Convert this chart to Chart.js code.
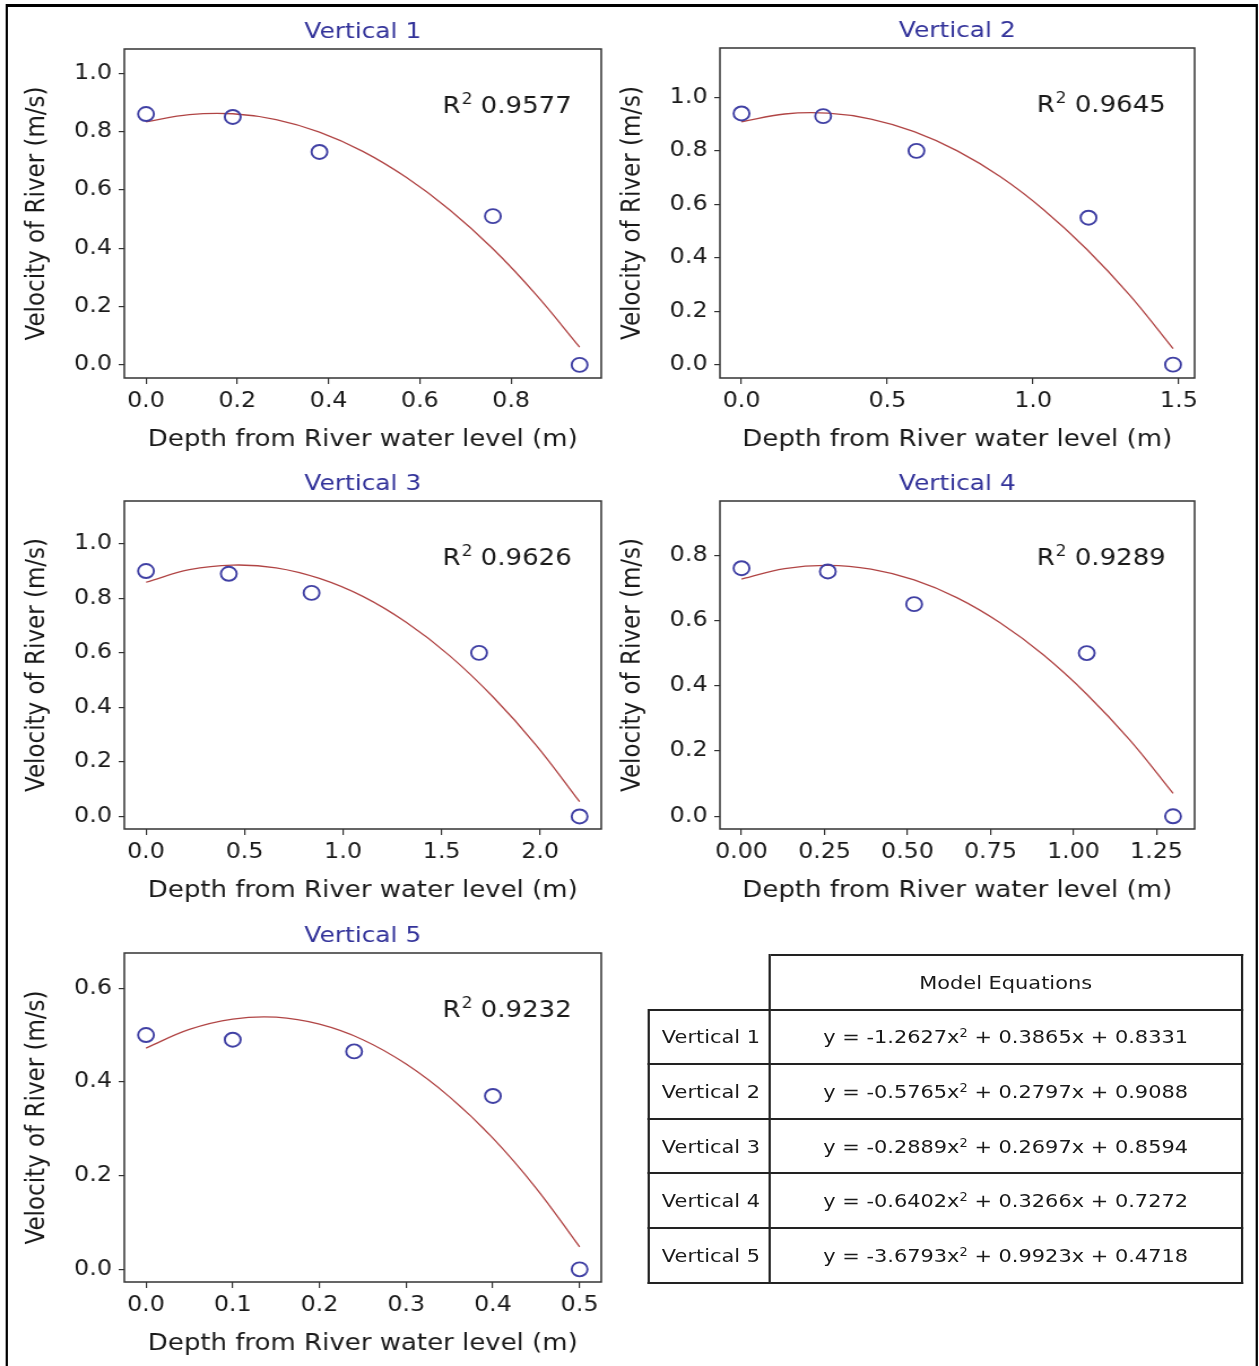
<!DOCTYPE html>
<html>
<head>
<meta charset="utf-8">
<title>River velocity profiles</title>
<script src="https://cdn.jsdelivr.net/npm/chart.js@4.4.1/dist/chart.umd.min.js"></script>
<style>
  html, body { margin: 0; padding: 0; background: #fff; overflow: hidden; }
  /* the reference is stretched sideways by ~13%, so lay out narrow and scale */
  #fig { position: relative; width: 1114px; height: 1366px; transform: scaleX(1.1302); transform-origin: 0 0; font-family: 'DejaVu Sans', sans-serif; }
  #frame { position: absolute; left: 5.3px; top: 4px; width: 1108px; height: 1420px; box-sizing: border-box; border: 2.8px solid #000; border-top-width: 3px; }
  .panel { position: absolute; }
  #eq { position: absolute; left: 572.6px; top: 954px; width: 527.4px; border-collapse: collapse; font-size: 18.5px; color: #1a1a1a; }
  #eq td { border: 2px solid #222; padding: 0; }
  #eq tr { height: 54.6px; }
  #eq td.blank { border-top: none; border-left: none; }
  #eq td.lab { padding-left: 11px; text-align: left; width: 94px; }
  #eq td.val { text-align: center; }
  #eq sup { font-size: 0.62em; line-height: 0; vertical-align: 0.55em; }
</style>
</head>
<body>
<div id="fig">
  <div id="frame"></div>
  <table id="eq"></table>
</div>
<script>
// measured points (depth m, velocity m/s)
const depthV1 = [0, 0.19, 0.38, 0.76, 0.95];
const velocityV1 = [0.86, 0.85, 0.73, 0.51, 0.0];
const depthV2 = [0, 0.28, 0.6, 1.19, 1.48];
const velocityV2 = [0.94, 0.93, 0.80, 0.55, 0.0];
const depthV3 = [0, 0.42, 0.84, 1.69, 2.2];
const velocityV3 = [0.90, 0.89, 0.82, 0.60, 0.0];
const depthV4 = [0, 0.26, 0.52, 1.04, 1.3];
const velocityV4 = [0.76, 0.75, 0.65, 0.50, 0.0];
const depthV5 = [0, 0.1, 0.24, 0.4, 0.5];
const velocityV5 = [0.50, 0.49, 0.465, 0.37, 0.0];

// fitted curves
const fitDepthV1 = [0, 0.095, 0.19, 0.285, 0.38, 0.475, 0.57, 0.665, 0.76, 0.855, 0.95];
const fitVelocityV1 = [0.833, 0.858, 0.861, 0.841, 0.798, 0.732, 0.643, 0.532, 0.398, 0.240, 0.061];
const fitDepthV2 = [0, 0.148, 0.296, 0.444, 0.592, 0.74, 0.888, 1.036, 1.184, 1.332, 1.48];
const fitVelocityV2 = [0.909, 0.938, 0.941, 0.919, 0.872, 0.800, 0.703, 0.580, 0.432, 0.259, 0.060];
const fitDepthV3 = [0, 0.22, 0.44, 0.66, 0.88, 1.1, 1.32, 1.54, 1.76, 1.98, 2.2];
const fitVelocityV3 = [0.859, 0.905, 0.922, 0.912, 0.873, 0.807, 0.712, 0.590, 0.439, 0.261, 0.054];
const fitDepthV4 = [0, 0.13, 0.26, 0.39, 0.52, 0.65, 0.78, 0.91, 1.04, 1.17, 1.3];
const fitVelocityV4 = [0.727, 0.759, 0.769, 0.757, 0.724, 0.669, 0.592, 0.494, 0.374, 0.233, 0.070];
const fitDepthV5 = [0, 0.05, 0.1, 0.15, 0.2, 0.25, 0.3, 0.35, 0.4, 0.45, 0.5];
const fitVelocityV5 = [0.472, 0.512, 0.534, 0.538, 0.523, 0.490, 0.438, 0.368, 0.280, 0.173, 0.048];

const verticalNames = ['Vertical 1', 'Vertical 2', 'Vertical 3', 'Vertical 4', 'Vertical 5'];
const rSquared = [0.9577, 0.9645, 0.9626, 0.9289, 0.9232];
const coefA = [-1.2627, -0.5765, -0.2889, -0.6402, -3.6793];
const coefB = [0.3865, 0.2797, 0.2697, 0.3266, 0.9923];
const coefC = [0.8331, 0.9088, 0.8594, 0.7272, 0.4718];

// tick values and labels
const xTicksV1 = [0, 0.2, 0.4, 0.6, 0.8];
const xLabelsV1 = ['0.0', '0.2', '0.4', '0.6', '0.8'];
const xTicksV2 = [0, 0.5, 1.0, 1.5];
const xLabelsV2 = ['0.0', '0.5', '1.0', '1.5'];
const xTicksV3 = [0, 0.5, 1.0, 1.5, 2.0];
const xLabelsV3 = ['0.0', '0.5', '1.0', '1.5', '2.0'];
const xTicksV4 = [0, 0.25, 0.5, 0.75, 1.0, 1.25];
const xLabelsV4 = ['0.00', '0.25', '0.50', '0.75', '1.00', '1.25'];
const xTicksV5 = [0, 0.1, 0.2, 0.3, 0.4, 0.5];
const xLabelsV5 = ['0.0', '0.1', '0.2', '0.3', '0.4', '0.5'];
const yTicksTall = [0, 0.2, 0.4, 0.6, 0.8, 1.0];
const yLabelsTall = ['0.0', '0.2', '0.4', '0.6', '0.8', '1.0'];
const yTicksV4 = [0, 0.2, 0.4, 0.6, 0.8];
const yLabelsV4 = ['0.0', '0.2', '0.4', '0.6', '0.8'];
const yTicksV5 = [0, 0.2, 0.4, 0.6];
const yLabelsV5 = ['0.0', '0.2', '0.4', '0.6'];

// axis limits
const xLimits = [[-0.0475, 0.9975], [-0.074, 1.554], [-0.11, 2.31], [-0.065, 1.365], [-0.025, 0.525]];
const yLimits = [[-0.045, 1.083], [-0.05, 1.185], [-0.046, 1.157], [-0.039, 0.966], [-0.027, 0.675]];

// plot area boxes on the (unscaled) page
const panels = [
  { left: 110, top: 49, w: 422, h: 329 },
  { left: 637, top: 48, w: 420, h: 330 },
  { left: 110, top: 501, w: 422, h: 328 },
  { left: 637, top: 501, w: 420, h: 328 },
  { left: 110, top: 953, w: 422, h: 329 }
];

const pointsets = [
  [depthV1, velocityV1, fitDepthV1, fitVelocityV1, xTicksV1, xLabelsV1, yTicksTall, yLabelsTall],
  [depthV2, velocityV2, fitDepthV2, fitVelocityV2, xTicksV2, xLabelsV2, yTicksTall, yLabelsTall],
  [depthV3, velocityV3, fitDepthV3, fitVelocityV3, xTicksV3, xLabelsV3, yTicksTall, yLabelsTall],
  [depthV4, velocityV4, fitDepthV4, fitVelocityV4, xTicksV4, xLabelsV4, yTicksV4, yLabelsV4],
  [depthV5, velocityV5, fitDepthV5, fitVelocityV5, xTicksV5, xLabelsV5, yTicksV5, yLabelsV5]
];

Chart.defaults.font.family = "'DejaVu Sans', sans-serif";
Chart.defaults.color = '#1a1a1a';

const FONT = "'DejaVu Sans', sans-serif";

// frame box, panel title and the R² note
const decor = {
  id: 'decor',
  afterDraw(chart, args, opts) {
    const { ctx, chartArea: a } = chart;
    ctx.save();
    ctx.strokeStyle = '#333';
    ctx.lineWidth = 1.5;
    ctx.strokeRect(a.left, a.top, a.right - a.left, a.bottom - a.top);

    ctx.fillStyle = '#33339a';
    ctx.font = '22px ' + FONT;
    ctx.textAlign = 'center';
    ctx.textBaseline = 'middle';
    ctx.fillText(opts.title, (a.left + a.right) / 2, a.top - 17);

    let x = a.left + 0.667 * (a.right - a.left);
    const y = a.bottom - 0.823 * (a.bottom - a.top);
    ctx.fillStyle = '#1a1a1a';
    ctx.textAlign = 'left';
    ctx.font = '23px ' + FONT;
    ctx.fillText('R', x, y);
    x += ctx.measureText('R').width + 1;
    ctx.font = '15px ' + FONT;
    ctx.fillText('2', x, y - 7);
    x += ctx.measureText('2').width;
    ctx.font = '23px ' + FONT;
    ctx.fillText(' ' + opts.r2.toFixed(4), x, y);
    ctx.restore();
  }
};

const fig = document.getElementById('fig');

panels.forEach((p, i) => {
  const [xs, ys, fx, fy, xt, xl, yt, yl] = pointsets[i];
  const wrap = document.createElement('div');
  wrap.className = 'panel';
  wrap.style.left = (p.left - 110) + 'px';
  wrap.style.top = (p.top - 45) + 'px';
  wrap.style.width = (p.w + 135) + 'px';
  wrap.style.height = (p.h + 135) + 'px';
  const canvas = document.createElement('canvas');
  wrap.appendChild(canvas);
  fig.appendChild(wrap);

  new Chart(canvas, {
    type: 'scatter',
    data: {
      datasets: [
        {
          label: 'Measured',
          data: xs.map((x, k) => ({ x: x, y: ys[k] })),
          pointStyle: 'circle',
          pointRadius: 7,
          borderColor: '#4040a4',
          borderWidth: 1.9,
          backgroundColor: 'rgba(0,0,0,0)',
          showLine: false
        },
        {
          label: 'Model',
          data: fx.map((x, k) => ({ x: x, y: fy[k] })),
          showLine: true,
          pointRadius: 0,
          borderColor: '#b04444',
          borderWidth: 1.3,
          tension: 0.4,
          fill: false
        }
      ]
    },
    options: {
      responsive: true,
      maintainAspectRatio: false,
      animation: false,
      events: [],
      layout: { padding: { top: 45, right: 25, left: 0, bottom: 0 } },
      scales: {
        x: {
          type: 'linear',
          min: xLimits[i][0],
          max: xLimits[i][1],
          afterBuildTicks: s => { s.ticks = xt.map(v => ({ value: v })); },
          afterFit: s => { s.height = 90; },
          ticks: {
            callback: (v, k) => xl[k],
            font: { size: 21 },
            color: '#1a1a1a',
            padding: 5,
            maxRotation: 0,
            autoSkip: false
          },
          grid: { display: true, drawOnChartArea: false, drawTicks: true, tickLength: 6, color: '#333', lineWidth: 1.2 },
          border: { display: false },
          title: {
            display: true,
            text: 'Depth from River water level (m)',
            font: { size: 23 },
            color: '#1a1a1a',
            padding: { top: 0, bottom: 14 }
          }
        },
        y: {
          type: 'linear',
          min: yLimits[i][0],
          max: yLimits[i][1],
          afterBuildTicks: s => { s.ticks = yt.map(v => ({ value: v })); },
          afterFit: s => { s.width = 110; },
          ticks: {
            callback: (v, k) => yl[k],
            font: { size: 21 },
            color: '#1a1a1a',
            padding: 6,
            autoSkip: false
          },
          grid: { display: true, drawOnChartArea: false, drawTicks: true, tickLength: 5, color: '#333', lineWidth: 1.2 },
          border: { display: false },
          title: {
            display: true,
            text: 'Velocity of River (m/s)',
            font: { size: 23 },
            color: '#1a1a1a',
            padding: { top: 19, bottom: 0 }
          }
        }
      },
      plugins: {
        legend: { display: false },
        tooltip: { enabled: false },
        decor: { title: verticalNames[i], r2: rSquared[i] }
      }
    },
    plugins: [decor]
  });
});

// model equation table
const table = document.getElementById('eq');
let html = '<tr><td class="blank"></td><td class="val">Model Equations</td></tr>';
verticalNames.forEach((name, i) => {
  const eq = 'y = ' + coefA[i].toFixed(4) + 'x<sup>2</sup> + ' + coefB[i].toFixed(4) + 'x + ' + coefC[i].toFixed(4);
  html += '<tr><td class="lab">' + name + '</td><td class="val">' + eq + '</td></tr>';
});
table.innerHTML = html;
</script>
</body>
</html>
